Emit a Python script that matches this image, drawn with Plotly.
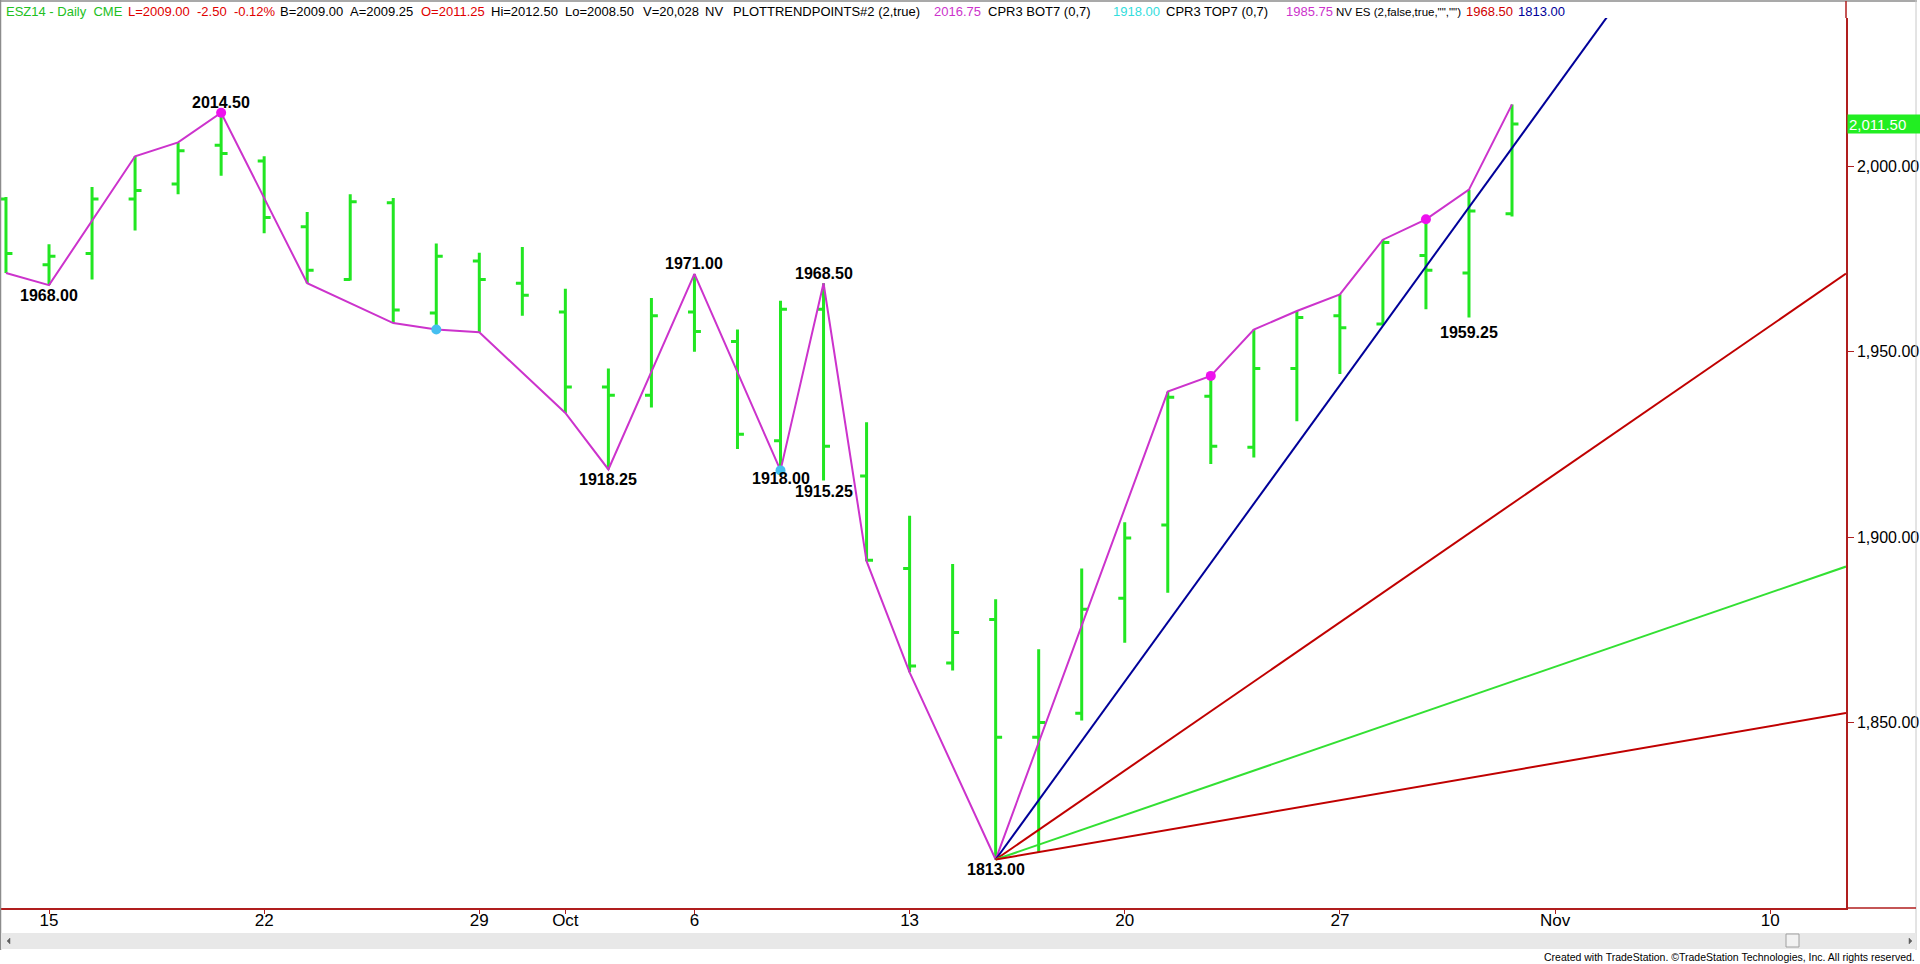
import numpy as np
import plotly.graph_objects as go

# ---------------- data ----------------
dates = ["2014-09-12", "2014-09-15", "2014-09-16", "2014-09-17", "2014-09-18", "2014-09-19",
         "2014-09-22", "2014-09-23", "2014-09-24", "2014-09-25", "2014-09-26",
         "2014-09-29", "2014-09-30", "2014-10-01", "2014-10-02", "2014-10-03",
         "2014-10-06", "2014-10-07", "2014-10-08", "2014-10-09", "2014-10-10",
         "2014-10-13", "2014-10-14", "2014-10-15", "2014-10-16", "2014-10-17",
         "2014-10-20", "2014-10-21", "2014-10-22", "2014-10-23", "2014-10-24",
         "2014-10-27", "2014-10-28", "2014-10-29", "2014-10-30", "2014-10-31"]
opens = [1991.25, 1973.50, 1976.50, 1991.25, 1995.25, 2005.75,
         2001.50, 1983.75, 1969.50, 1990.25, 1960.50,
         1974.50, 1968.50, 1960.75, 1940.50, 1938.25,
         1960.75, 1952.75, 1926.00, 1961.50, 1916.50,
         1891.50, 1866.00, 1877.75, 1846.00, 1852.50,
         1883.50, 1903.25, 1938.00, 1924.25, 1945.50,
         1959.75, 1957.50, 1976.00, 1971.25, 1987.25]
highs = [1991.75, 1979.00, 1994.50, 2002.75, 2006.50, 2014.50,
         2002.75, 1987.75, 1992.50, 1991.50, 1979.25,
         1976.75, 1978.25, 1967.00, 1945.50, 1964.50,
         1971.00, 1956.00, 1963.75, 1968.50, 1931.00,
         1905.75, 1892.75, 1883.25, 1869.75, 1891.50,
         1904.00, 1939.25, 1943.50, 1956.00, 1961.00,
         1965.50, 1980.25, 1985.75, 1993.75, 2016.75]
lows = [1971.25, 1968.00, 1969.50, 1982.75, 1992.50, 1997.50,
        1982.00, 1968.50, 1969.25, 1957.75, 1956.00,
        1955.25, 1959.75, 1933.50, 1918.25, 1935.00,
        1950.00, 1923.75, 1918.00, 1915.25, 1893.50,
        1863.50, 1864.00, 1813.00, 1815.00, 1850.50,
        1871.50, 1885.00, 1919.75, 1921.50, 1931.25,
        1944.00, 1957.25, 1961.50, 1959.25, 1986.50]
closes = [1976.50, 1975.75, 1991.25, 1993.50, 2004.25, 2003.50,
          1986.25, 1972.00, 1990.50, 1961.25, 1975.75,
          1969.50, 1965.25, 1940.50, 1938.25, 1959.75,
          1955.50, 1927.75, 1961.50, 1924.50, 1893.75,
          1865.25, 1874.25, 1846.00, 1850.00, 1880.50,
          1899.75, 1937.75, 1924.50, 1945.50, 1959.25,
          1956.50, 1979.50, 1972.00, 1988.00, 2011.50]

# swing (zig-zag) points: date and which extreme of that bar
zz_dates = ["2014-09-12", "2014-09-15", "2014-09-17", "2014-09-18", "2014-09-19", "2014-09-23",
            "2014-09-25", "2014-09-26", "2014-09-29", "2014-10-01", "2014-10-02", "2014-10-06",
            "2014-10-08", "2014-10-09", "2014-10-10", "2014-10-13", "2014-10-15", "2014-10-21",
            "2014-10-22", "2014-10-23", "2014-10-24", "2014-10-27", "2014-10-28", "2014-10-29",
            "2014-10-30", "2014-10-31"]
zz_side = ["L", "L", "H", "H", "H", "L",
           "L", "L", "L", "L", "L", "H",
           "L", "H", "L", "L", "L", "H",
           "H", "H", "H", "H", "H", "H",
           "H", "H"]

magenta_dot_dates = ["2014-09-19", "2014-10-22", "2014-10-29"]   # at highs
cyan_dot_dates = ["2014-09-26", "2014-10-08"]                     # at lows

# pivot labels: date, side, text, vertical shift (px)
label_dates = ["2014-09-15", "2014-09-19", "2014-10-02", "2014-10-06", "2014-10-08",
               "2014-10-09", "2014-10-09", "2014-10-15", "2014-10-30"]
label_side = ["L", "H", "L", "H", "L", "H", "L", "L", "L"]
label_text = ["1968.00", "2014.50", "1918.25", "1971.00", "1918.00",
              "1968.50", "1915.25", "1813.00", "1959.25"]
label_shift = [-10, 10, -10, 10, -8, 10, -11, -10, -15]

# Gann fan from the 1813.00 low, points per bar
fan_anchor_date = "2014-10-15"
fan_anchor_price = 1813.00
fan_slopes = [16, 8, 4, 2]
fan_colors = ["#000099", "#C00000", "#33E033", "#C00000"]

tick_dates = ["2014-09-15", "2014-09-22", "2014-09-29", "2014-10-01", "2014-10-06",
              "2014-10-13", "2014-10-20", "2014-10-27", "2014-11-03", "2014-11-10"]
tick_labels = ["15", "22", "29", "Oct", "6", "13", "20", "27", "Nov", "10"]
y_ticks = [1850, 1900, 1950, 2000]
last_price = 2011.50

header = [
    ("ESZ14 - Daily  CME", "#22C022", 4, 13),
    ("L=2009.00  -2.50  -0.12%", "#E00000", 126, 13),
    ("B=2009.00", "#000000", 278, 13),
    ("A=2009.25", "#000000", 348, 13),
    ("O=2011.25", "#E00000", 419, 13),
    ("Hi=2012.50", "#000000", 489, 13),
    ("Lo=2008.50", "#000000", 563, 13),
    ("V=20,028", "#000000", 641, 13),
    ("NV", "#000000", 703, 13),
    ("PLOTTRENDPOINTS#2 (2,true)", "#000000", 731, 13),
    ("2016.75", "#CC33CC", 932, 13),
    ("CPR3 BOT7 (0,7)", "#000000", 986, 13),
    ("1918.00", "#33DDDD", 1111, 13),
    ("CPR3 TOP7 (0,7)", "#000000", 1164, 13),
    ("1985.75", "#CC33CC", 1284, 13),
    ('NV ES (2,false,true,"","")', "#000000", 1334, 11.5),
    ("1968.50", "#D00000", 1464, 13),
    ("1813.00", "#000099", 1516, 13),
]

# ---------------- helpers ----------------
base = np.datetime64("2014-09-15")


def bidx(d):
    return int(np.busday_count(base, np.datetime64(d)))


x = [bidx(d) for d in dates]
pos = {d: i for i, d in enumerate(dates)}


def ext(d, side):
    i = pos[d]
    return highs[i] if side == "H" else lows[i]


W, H = 1920, 964
PL, PR, PT, PB = 0, 1846, 18, 908     # plot area in pixels
x_range = [-1.139, 41.762]
y_range = [1799.92, 2040.07]


def xp(px):
    return (px - PL) / (PR - PL)


def yp(py):
    return (PB - py) / (PB - PT)


GREEN = "#22E622"
AXIS = "#B01E1E"
FONT = "Liberation Sans, Arial, sans-serif"

fig = go.Figure()

fig.add_trace(go.Ohlc(
    x=x, open=opens, high=highs, low=lows, close=closes,
    increasing=dict(line=dict(color=GREEN, width=3)),
    decreasing=dict(line=dict(color=GREEN, width=3)),
    tickwidth=0.15, hoverinfo="skip", showlegend=False))

# zig-zag
fig.add_trace(go.Scatter(
    x=[bidx(d) for d in zz_dates], y=[ext(d, s) for d, s in zip(zz_dates, zz_side)],
    mode="lines", line=dict(color="#CC33CC", width=2), hoverinfo="skip", showlegend=False))

# Gann fan
ax = bidx(fan_anchor_date)
for s, c in zip(fan_slopes, fan_colors):
    xe = x_range[1]
    fig.add_trace(go.Scatter(
        x=[ax, xe], y=[fan_anchor_price, fan_anchor_price + s * (xe - ax)],
        mode="lines", line=dict(color=c, width=2), hoverinfo="skip", showlegend=False))

# dots
fig.add_trace(go.Scatter(
    x=[bidx(d) for d in magenta_dot_dates], y=[ext(d, "H") for d in magenta_dot_dates],
    mode="markers", marker=dict(color="#EE11EE", size=10), hoverinfo="skip", showlegend=False))
fig.add_trace(go.Scatter(
    x=[bidx(d) for d in cyan_dot_dates], y=[ext(d, "L") for d in cyan_dot_dates],
    mode="markers", marker=dict(color="#45BFF0", size=10), hoverinfo="skip", showlegend=False))

annotations = []
for d, s, t, sh in zip(label_dates, label_side, label_text, label_shift):
    annotations.append(dict(
        x=bidx(d), y=ext(d, s), xref="x", yref="y", text="<b>%s</b>" % t, showarrow=False,
        xanchor="center", yanchor="middle", yshift=sh,
        font=dict(family=FONT, size=16, color="#000000")))

for t, c, px, fs in header:
    annotations.append(dict(
        x=xp(px), y=yp(12), xref="paper", yref="paper", text=t, showarrow=False,
        xanchor="left", yanchor="middle", font=dict(family=FONT, size=fs, color=c)))

# last price box
annotations.append(dict(
    x=xp(1847), y=last_price, xref="paper", yref="y", text="{:,.2f}".format(last_price),
    showarrow=False, xanchor="left", yanchor="middle", bgcolor="#22EE22",
    width=70, height=16, align="left", borderpad=1,
    font=dict(family=FONT, size=15, color="#FFFFFF")))

annotations.append(dict(
    x=xp(1917), y=yp(957), xref="paper", yref="paper",
    text="Created with TradeStation. \u00a9TradeStation Technologies, Inc. All rights reserved.",
    showarrow=False, xanchor="right", yanchor="middle",
    font=dict(family=FONT, size=10.5, color="#000000")))

shapes = [
    # frame
    dict(type="line", xref="paper", yref="paper", x0=xp(0.5), x1=xp(0.5), y0=yp(950), y1=yp(0),
         line=dict(color="#8C8C8C", width=1.5)),
    dict(type="line", xref="paper", yref="paper", x0=xp(0), x1=xp(1917), y0=yp(1), y1=yp(1),
         line=dict(color="#8C8C8C", width=1.5)),
    dict(type="line", xref="paper", yref="paper", x0=xp(1916), x1=xp(1916), y0=yp(950), y1=yp(0),
         line=dict(color="#C8C8C8", width=1)),
    # axis extensions
    dict(type="line", xref="paper", yref="paper", x0=1, x1=1, y0=1, y1=yp(1),
         line=dict(color=AXIS, width=1.5)),
    dict(type="line", xref="paper", yref="paper", x0=1, x1=xp(1916), y0=0, y1=0,
         line=dict(color=AXIS, width=1.5)),
    # scrollbar
    dict(type="rect", xref="paper", yref="paper", x0=xp(1), x1=xp(1916), y0=yp(949), y1=yp(933),
         fillcolor="#E8E8E8", line=dict(width=0)),
    dict(type="rect", xref="paper", yref="paper", x0=xp(1786), x1=xp(1799), y0=yp(947), y1=yp(934),
         fillcolor="#F2F2F2", line=dict(color="#A0A0A0", width=1)),
    dict(type="path", xref="paper", yref="paper",
         path="M %f,%f L %f,%f L %f,%f Z" % (xp(7), yp(941), xp(10), yp(938), xp(10), yp(944)),
         fillcolor="#606060", line=dict(color="#606060", width=0.5)),
    dict(type="path", xref="paper", yref="paper",
         path="M %f,%f L %f,%f L %f,%f Z" % (xp(1912), yp(941), xp(1909), yp(938), xp(1909), yp(944)),
         fillcolor="#606060", line=dict(color="#606060", width=0.5)),
]

fig.update_layout(
    width=W, height=H,
    margin=dict(l=PL, r=W - PR, t=PT, b=H - PB, pad=0),
    paper_bgcolor="#FFFFFF", plot_bgcolor="#FFFFFF",
    showlegend=False, annotations=annotations, shapes=shapes,
    xaxis=dict(range=x_range, tickvals=[bidx(d) for d in tick_dates], ticktext=tick_labels,
               showgrid=False, zeroline=False, showline=True, linecolor=AXIS, linewidth=1.5,
               ticks="outside", ticklen=4, tickcolor=AXIS, tickwidth=1,
               ticklabelstandoff=-8,
               tickfont=dict(family=FONT, size=17, color="#000000"),
               rangeslider=dict(visible=False), fixedrange=True),
    yaxis=dict(range=y_range, side="right", tickvals=y_ticks, tickformat=",.2f",
               showgrid=False, zeroline=False, showline=True, linecolor=AXIS, linewidth=1.5,
               ticks="outside", ticklen=6, tickcolor=AXIS, tickwidth=1,
               tickfont=dict(family=FONT, size=16, color="#000000"), fixedrange=True),
)

fig.write_html("out.html", config={"displayModeBar": False},
               post_script="document.body.style.margin='0px';document.body.style.overflow='hidden';")
